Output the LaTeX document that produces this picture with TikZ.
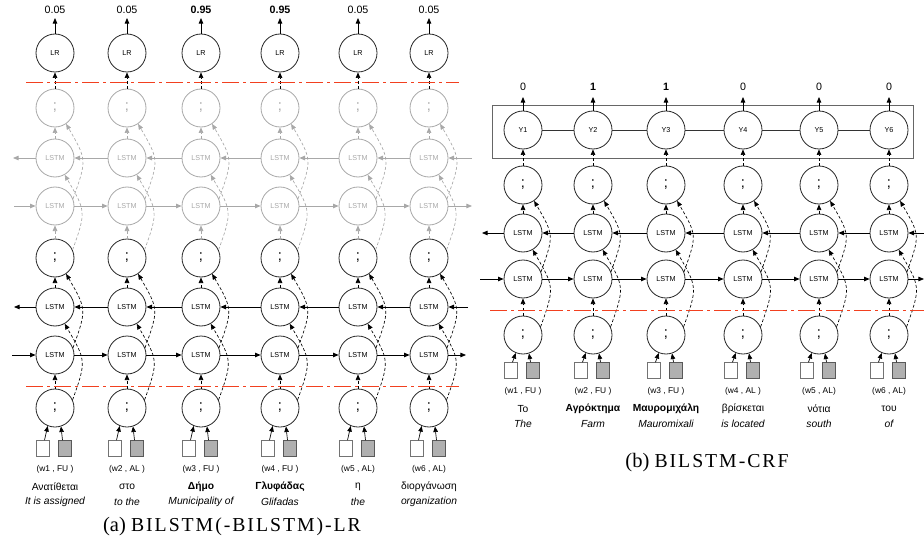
\documentclass[tikz,border=0pt]{standalone}
\usepackage{fontspec}
\newfontfamily\arial{Liberation Sans}
\newfontfamily\capserif{Liberation Serif}
\newfontfamily\capsp[LetterSpace=10]{Liberation Serif}
\usetikzlibrary{arrows.meta}
\definecolor{redl}{HTML}{F2401F}
\definecolor{lg}{HTML}{A8A8A8}
\definecolor{sqg}{HTML}{B0B0B0}
\tikzset{
 cell/.style={circle,draw=black!85,line width=0.6pt,minimum size=28.5pt,inner sep=0pt,font=\arial\fontsize{5.4}{6}\selectfont},
 gcell/.style={cell,draw=lg,text=lg},
 semi/.style={font=\arial\fontsize{11}{12}\selectfont},
 tip/.style={-{Triangle[length=4.2pt,width=3.4pt]}},
 harr/.style={tip,line width=0.6pt},
 darr/.style={tip,line width=0.5pt,dash pattern=on 2.2pt off 1.6pt},
 garr/.style={darr,draw=lg},
 curv/.style={out=70,in=-60,looseness=1.4},
 redline/.style={draw=redl,line width=1.1pt,dash pattern=on 13pt off 3pt on 2pt off 3pt},
 wsq/.style={draw=black!55,fill=white,minimum width=9.75pt,minimum height=12pt,inner sep=0pt,line width=0.5pt},
 gsq/.style={wsq,fill=sqg,draw=black!65},
 num/.style={font=\arial\fontsize{8}{9}\selectfont},
 lab/.style={font=\arial\fontsize{6.3}{7}\selectfont},
 word/.style={font=\arial\fontsize{7.7}{9}\selectfont},
 eng/.style={font=\arial\itshape\fontsize{7.7}{9}\selectfont},
 capt/.style={font=\capserif\fontsize{15.4}{18}\selectfont},
 crfbox/.style={draw=black!60,line width=0.7pt},
}
\newcommand{\capsc}[1]{{\capsp\fontsize{14.8}{17}\selectfont #1}}
\begin{document}
\begin{tikzpicture}[x=0.75pt,y=0.75pt]
\useasboundingbox (0,0) rectangle (924,-556);
% ---------------- left panel ----------------
\foreach \i/\x in {1/55,2/127,3/201,4/280,5/358,6/429}{
 \node[cell] (lr\i) at (\x,-53) {LR};
 \node[gcell,semi] (gs\i) at (\x,-108) {;};
 \node[gcell] (gb\i) at (\x,-158) {LSTM};
 \node[gcell] (gf\i) at (\x,-206) {LSTM};
 \node[cell,semi] (cs\i) at (\x,-258) {;};
 \node[cell] (bb\i) at (\x,-307) {LSTM};
 \node[cell] (bf\i) at (\x,-355) {LSTM};
 \node[cell,semi] (in\i) at (\x,-408) {;};
 \node[wsq] (ws\i) at (\x-12.5,-448.5) {};
 \node[gsq] (gq\i) at (\x+9.5,-448.5) {};
 \coordinate (top\i) at (\x,-18);
 \draw[harr] (lr\i) -- (top\i);
 \draw[darr] (gs\i) -- (lr\i);
 \draw[garr] (gb\i) -- (gs\i);
 \draw[garr] (gf\i.22) to[curv] (gs\i.-55);
 \draw[garr] (cs\i) -- (gf\i);
 \draw[garr] (cs\i.25) to[curv] (gb\i.-60);
 \draw[darr] (bb\i) -- (cs\i);
 \draw[darr] (bf\i.22) to[curv] (cs\i.-55);
 \draw[darr] (in\i) -- (bf\i);
 \draw[darr] (in\i.25) to[curv] (bb\i.-60);
 \draw[tip,line width=0.5pt] ([xshift=1.5pt]ws\i.north) -- (in\i.-112);
 \draw[tip,line width=0.5pt] ([xshift=-1.5pt]gq\i.north) -- (in\i.-72);
}
\foreach \i/\j in {1/2,2/3,3/4,4/5,5/6}{
 \draw[harr] (bf\i) -- (bf\j);
 \draw[harr] (bb\j) -- (bb\i);
 \draw[harr,lg] (gf\i) -- (gf\j);
 \draw[harr,lg] (gb\j) -- (gb\i);
}
\coordinate (fwinL) at (12,-355);
\coordinate (fwoutL) at (466,-355);
\coordinate (bwinL) at (468,-307);
\coordinate (bwoutL) at (14,-307);
\coordinate (gfinL) at (14,-206);
\coordinate (gfoutL) at (472,-206);
\coordinate (gbinL) at (472,-158);
\coordinate (gboutL) at (13,-158);
\draw[harr] (fwinL) -- (bf1);
\draw[harr] (bf6) -- (fwoutL);
\draw[harr] (bwinL) -- (bb6);
\draw[harr] (bb1) -- (bwoutL);
\draw[harr,lg] (gfinL) -- (gf1);
\draw[harr,lg] (gf6) -- (gfoutL);
\draw[harr,lg] (gbinL) -- (gb6);
\draw[harr,lg] (gb1) -- (gboutL);
\draw[redline] (26,-82.7) -- (459,-82.7);
\draw[redline] (26,-386.7) -- (459,-386.7);
\foreach \i/\x/\n/\l/\g/\e in {
 1/55/{0.05}/{(w1 , FU )}/{Ανατίθεται}/{It is assigned},
 2/127/{0.05}/{(w2 , AL )}/{στο}/{to the},
 3/201/{\textbf{0.95}}/{(w3 , FU )}/{\textbf{Δήμο}}/{Municipality of},
 4/280/{\textbf{0.95}}/{(w4 , FU )}/{\textbf{Γλυφάδας}}/{Glifadas},
 5/358/{0.05}/{(w5 , AL)}/{η}/{the},
 6/429/{0.05}/{(w6 , AL)}/{διοργάνωση}/{organization}}{
 \node[num] (num\i) at (\x,-10) {\n};
 \node[lab] (lab\i) at (\x,-469) {\l};
 \node[word] (gr\i) at (\x,-487) {\g};
 \node[eng] (en\i) at (\x,-502) {\e};
}
\node[capt] (capa) at (232,-527) {(a) \capsc{BILSTM(-BILSTM)-LR}};
% ---------------- right panel ----------------
\draw[crfbox] (492,-105) rectangle (913,-158);
\foreach \i/\x in {1/523,2/593,3/666,4/743,5/819,6/889}{
 \node[cell] (y\i) at (\x,-130) {Y\i};
 \node[cell,semi] (rs\i) at (\x,-185) {;};
 \node[cell] (rb\i) at (\x,-233) {LSTM};
 \node[cell] (rf\i) at (\x,-279) {LSTM};
 \node[cell,semi] (ri\i) at (\x,-335) {;};
 \node[wsq] (rws\i) at (\x-12.5,-370.5) {};
 \node[gsq] (rgq\i) at (\x+9.5,-370.5) {};
 \coordinate (rtop\i) at (\x,-97);
 \draw[harr] (y\i) -- (rtop\i);
 \draw[darr] (rs\i) -- (y\i);
 \draw[darr] (rb\i) -- (rs\i);
 \draw[darr] (rf\i.22) to[curv] (rs\i.-55);
 \draw[darr] (ri\i) -- (rf\i);
 \draw[darr] (ri\i.25) to[curv] (rb\i.-60);
 \draw[tip,line width=0.5pt] ([xshift=1.5pt]rws\i.north) -- (ri\i.-112);
 \draw[tip,line width=0.5pt] ([xshift=-1.5pt]rgq\i.north) -- (ri\i.-72);
}
\foreach \i/\j in {1/2,2/3,3/4,4/5,5/6}{
 \draw[line width=0.6pt,black!80] (y\i) -- (y\j);
 \draw[harr] (rf\i) -- (rf\j);
 \draw[harr] (rb\j) -- (rb\i);
}
\coordinate (rfin) at (480,-279);
\coordinate (rfout) at (924,-279);
\coordinate (rbin) at (924,-233);
\coordinate (rbout) at (482,-233);
\draw[harr] (rfin) -- (rf1);
\draw[harr] (rf6) -- (rfout);
\draw[harr] (rbin) -- (rb6);
\draw[harr] (rb1) -- (rbout);
\draw[redline] (490,-310.7) -- (924,-310.7);
\foreach \i/\x/\n/\l/\g/\e in {
 1/523/{0}/{(w1 , FU )}/{Το}/{The},
 2/593/{\textbf{1}}/{(w2 , FU )}/{\textbf{Αγρόκτημα}}/{Farm},
 3/666/{\textbf{1}}/{(w3 , FU )}/{\textbf{Μαυρομιχάλη}}/{Mauromixali},
 4/743/{0}/{(w4 , AL )}/{βρίσκεται}/{is located},
 5/819/{0}/{(w5 , AL)}/{νότια}/{south},
 6/889/{0}/{(w6 , AL)}/{του}/{of}}{
 \node[num] (rnum\i) at (\x,-87) {\n};
 \node[lab] (rlab\i) at (\x,-391) {\l};
 \node[word] (rgr\i) at (\x,-409) {\g};
 \node[eng] (ren\i) at (\x,-424) {\e};
}
\node[capt] (capb) at (707,-463) {(b) \capsc{BILSTM-CRF}};
\end{tikzpicture}
\end{document}
